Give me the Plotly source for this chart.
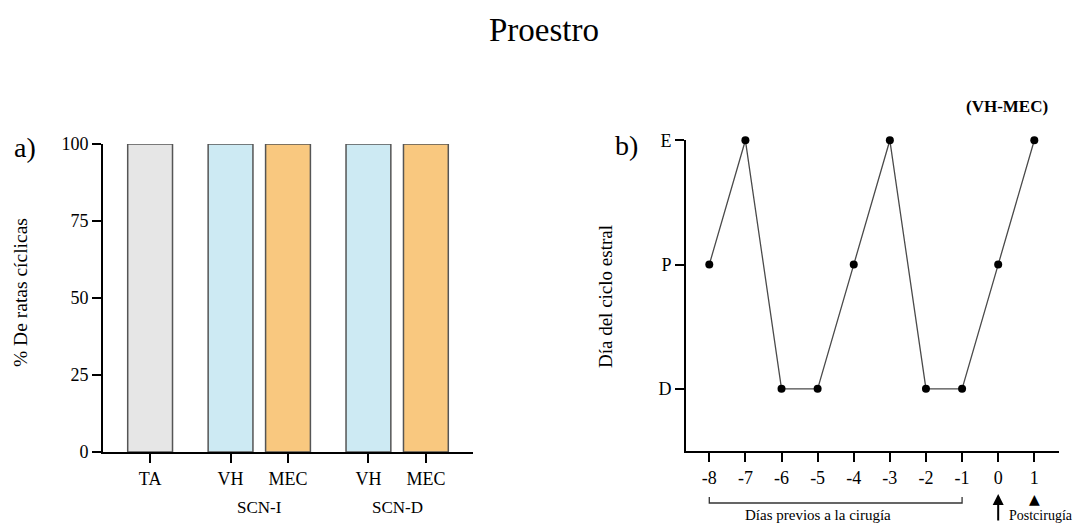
import plotly.graph_objects as go

W, H = 1076, 524

# ---- data: panel a ----
bar_labels = ["TA", "VH", "MEC", "VH", "MEC"]
bar_pos = [0, 1.4, 2.4, 3.8, 4.8]
bar_values = [100, 100, 100, 100, 100]
bar_colors = ["#e6e6e6", "#cdeaf3", "#f9c87f", "#cdeaf3", "#f9c87f"]
group_labels = ["SCN-I", "SCN-D"]
group_pos = [1.9, 4.3]
y_ticks_a = [0, 25, 50, 75, 100]

# ---- data: panel b ----
days = [-8, -7, -6, -5, -4, -3, -2, -1, 0, 1]
stage_codes = {"D": 1, "P": 2, "E": 3}
stages = ["P", "E", "D", "D", "P", "E", "D", "D", "P", "E"]
stage_values = [stage_codes[s] for s in stages]
day_labels = [str(d) for d in days]
stage_tick_labels = ["D", "P", "E"]
stage_tick_vals = [1, 2, 3]

FONT = "Liberation Serif"


def px(x):
    return x / W


def py(y):
    return 1 - y / H


fig = go.Figure()

fig.add_trace(go.Bar(
    x=bar_pos, y=bar_values, width=0.78,
    marker=dict(color=bar_colors, line=dict(color="#555555", width=1.5)),
    xaxis="x", yaxis="y", cliponaxis=False, showlegend=False,
))

fig.add_trace(go.Scatter(
    x=days, y=stage_values, mode="lines+markers",
    line=dict(color="#4a4a4a", width=1.3),
    marker=dict(color="black", size=8),
    xaxis="x2", yaxis="y2", cliponaxis=False, showlegend=False,
))

axis_common = dict(
    showline=True, linecolor="black", linewidth=2,
    ticks="outside", ticklen=9, tickwidth=2, tickcolor="black",
    showgrid=False, zeroline=False, automargin=False,
    tickfont=dict(family=FONT, size=18, color="black"),
    fixedrange=True,
)

fig.update_layout(
    template="none",
    width=W, height=H,
    margin=dict(l=0, r=0, t=0, b=0, pad=0),
    paper_bgcolor="white", plot_bgcolor="white",
    font=dict(family=FONT, color="black"),
    title=dict(text="Proestro", x=px(544), y=py(29), xanchor="center",
               yanchor="middle", automargin=False,
               font=dict(family=FONT, size=33, color="black")),
    xaxis=dict(domain=[px(103), px(473)], range=[-0.82, 5.62],
               tickvals=bar_pos, ticktext=bar_labels, anchor="y", **axis_common),
    yaxis=dict(domain=[py(452), py(144)], range=[0, 100],
               tickvals=y_ticks_a, anchor="x", **axis_common),
    xaxis2=dict(domain=[px(686), px(1059)], range=[-8.645, 1.684],
                tickvals=days, ticktext=day_labels, anchor="y2", **axis_common),
    yaxis2=dict(domain=[py(451), py(140.3)], range=[0.5, 3],
                tickvals=stage_tick_vals, ticktext=stage_tick_labels,
                anchor="x2", **axis_common),
)

ann = []
# group labels panel a
for lab, pos in zip(group_labels, group_pos):
    ann.append(dict(text=lab, x=pos, xref="x", y=py(507), yref="paper",
                    showarrow=False, xanchor="center", yanchor="middle",
                    font=dict(family=FONT, size=17)))
# panel letters
ann.append(dict(text="a)", x=px(25), y=py(147), xref="paper", yref="paper",
                showarrow=False, xanchor="center", yanchor="middle",
                font=dict(family=FONT, size=28)))
ann.append(dict(text="b)", x=px(626), y=py(146), xref="paper", yref="paper",
                showarrow=False, xanchor="center", yanchor="middle",
                font=dict(family=FONT, size=28)))
# y titles
ann.append(dict(text="% De ratas cíclicas", x=px(20), y=py(293), xref="paper",
                yref="paper", showarrow=False, textangle=-90,
                xanchor="center", yanchor="middle",
                font=dict(family=FONT, size=19.5)))
ann.append(dict(text="Día del ciclo estral", x=px(605), y=py(297), xref="paper",
                yref="paper", showarrow=False, textangle=-90,
                xanchor="center", yanchor="middle",
                font=dict(family=FONT, size=19)))
# (VH-MEC)
ann.append(dict(text="<b>(VH-MEC)</b>", x=px(1007), y=py(106), xref="paper",
                yref="paper", showarrow=False, xanchor="center", yanchor="middle",
                font=dict(family=FONT, size=17)))
# bracket label
ann.append(dict(text="Días previos a la cirugía", x=px(818), y=py(515),
                xref="paper", yref="paper", showarrow=False,
                xanchor="center", yanchor="middle",
                font=dict(family=FONT, size=15)))
ann.append(dict(text="Postcirugía", x=px(1007), y=py(515),
                xref="paper", yref="paper", showarrow=False,
                xanchor="left", yanchor="middle",
                font=dict(family=FONT, size=14)))
# surgery arrow at day 0
ann.append(dict(text="", x=0, xref="x2", y=py(494), yref="paper",
                showarrow=True, ax=0, ay=28,
                arrowhead=2, arrowsize=1.1, arrowwidth=2, arrowcolor="black"))
# triangle at day 1
ann.append(dict(text="▲", x=1, xref="x2", y=py(499), yref="paper",
                showarrow=False, xanchor="center", yanchor="middle",
                font=dict(family="DejaVu Sans", size=14, color="black")))
fig.update_layout(annotations=ann)

# bracket under days -8..-1
fig.add_shape(type="path",
              path=f"M {days[0]},{py(497)} L {days[0]},{py(503)} L {days[7]},{py(503)} L {days[7]},{py(497)}",
              xref="x2", yref="paper", line=dict(color="#333333", width=1.3))

fig.write_html("out.html")
